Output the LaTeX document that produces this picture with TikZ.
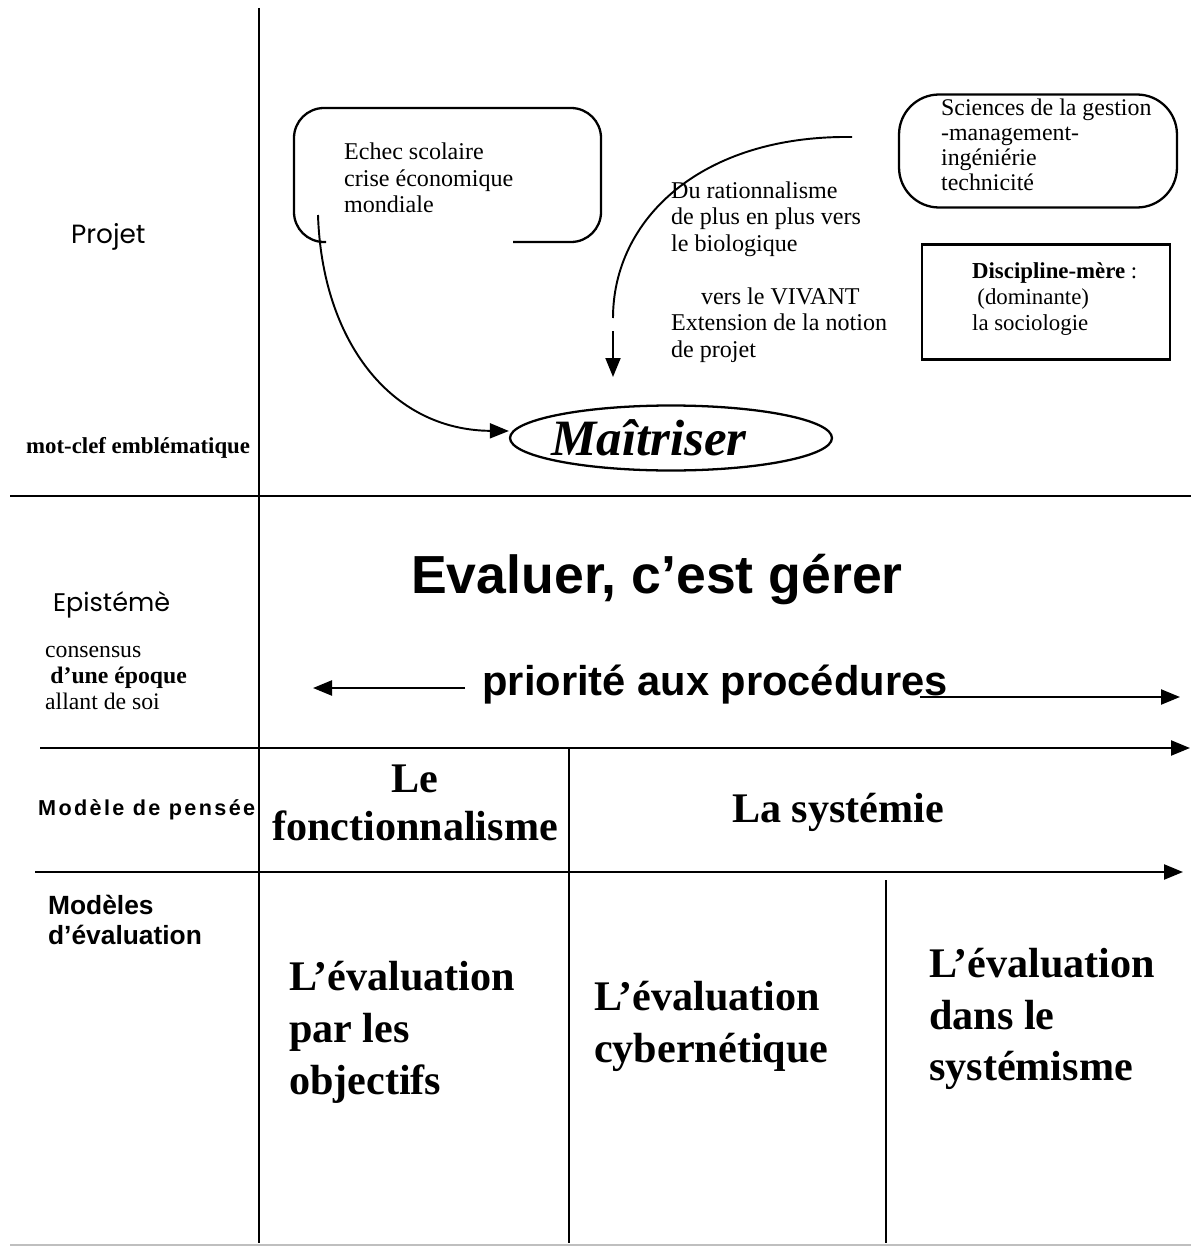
\documentclass[tikz,border=0pt]{standalone}
\usepackage{fontspec}
\setmainfont{Liberation Serif}
\setsansfont{Liberation Sans}
\newfontfamily\thinsans{Poppins}
\usetikzlibrary{positioning,
				arrows.meta,
				shapes.geometric}

\begin{document}
\begin{tikzpicture}[x=0.02cm,y=-0.02cm,line width=1.3pt,
  tip/.style={-{Triangle[length=0.38cm,width=0.3cm]}},
  txt/.style={inner sep=0pt,align=left,font=\fontsize{13.7}{15.1}\selectfont},
  big/.style={inner sep=0pt,align=left,font=\fontsize{24}{29.5}\selectfont\bfseries}]
  \useasboundingbox (0,0) rectangle (1191,1247);

  % grid lines
  \coordinate (vtop) at (259,8);
  \coordinate (vbot) at (259,1243);
  \coordinate (hone) at (10,496);
  \coordinate (honeend) at (1191,496);
  \coordinate (htwo) at (40,748);
  \coordinate (htwoend) at (1190,748);
  \coordinate (hthree) at (35,872);
  \coordinate (hthreeend) at (1183,872);
  \coordinate (vtwo) at (569,748);
  \coordinate (vtwobot) at (569,1243);
  \coordinate (vthree) at (886,880);
  \coordinate (vthreebot) at (886,1243);
  \draw (vtop)--(vbot);
  \draw (hone)--(honeend);
  \draw[tip] (htwo)--(htwoend);
  \draw[tip] (hthree)--(hthreeend);
  \draw (vtwo)--(vtwobot);
  \draw (vthree)--(vthreebot);
  \draw[gray!50,line width=0.8pt] (10,1245)--(1191,1245);

  % left column
  \node[anchor=west,inner sep=0pt,font=\thinsans\fontsize{15}{17}\selectfont] (projet) at (70,237) {Projet};
  \node[anchor=west,inner sep=0pt,font=\fontsize{13}{15}\selectfont\bfseries] (motclef) at (25,448) {mot-clef emblématique};
  \node[anchor=west,inner sep=0pt,font=\thinsans\fontsize{14.5}{17}\selectfont] (episteme) at (52,605) {Epistémè};
  \node[anchor=west,txt,font=\fontsize{13.5}{14.7}\selectfont] (consensus) at (44,678) {consensus\\ \hspace{3pt}\textbf{d’une époque}\\allant de soi};
  \node[anchor=west,inner sep=0pt,font=\sffamily\bfseries\fontsize{12.3}{14}\selectfont\addfontfeature{LetterSpace=11}] (pensee) at (37,810) {Modèle de pensée};
  \node[anchor=west,inner sep=0pt,align=left,font=\sffamily\bfseries\fontsize{15}{17}\selectfont] (modeles) at (47,920) {Modèles\\d’évaluation};

  % Projet row
  \draw[rounded corners=0.6cm] (513,242) -| (601,108) -| (294,242) -- (326,242);
  \node[anchor=west,txt] (echec) at (343,178) {Echec scolaire\\crise économique\\mondiale};
  \node[draw,rounded corners=0.8cm,minimum width=5.56cm,minimum height=2.26cm] (gestion) at (1038,151) {};
  \node[anchor=west,txt,font=\fontsize{13.6}{14.3}\selectfont] (gestiontxt) at (940,145) {Sciences de la gestion\\-management-\\ingéniérie\\technicité};
  \node[draw,minimum width=4.96cm,minimum height=2.3cm] (discipline) at (1046,302) {};
  \node[anchor=west,txt,font=\fontsize{13}{14.7}\selectfont] (disciplinetxt) at (971,299) {\textbf{Discipline-mère} :\\ \hspace{3pt}(dominante)\\la sociologie};
  \node[anchor=west,txt] (vivant) at (670,272) {Du rationnalisme\\de plus en plus vers\\le biologique\\[15.1pt]\hspace{17pt}vers le VIVANT\\Extension de la notion\\de projet};
  \node[draw,ellipse,minimum width=6.44cm,minimum height=1.3cm,inner sep=0pt,font=\fontsize{29}{32}\selectfont\bfseries\itshape] (maitriser) at (671,438) {\kern-0.88cm Maîtriser};

  \coordinate (echecfoot) at (318,215);
  \coordinate (vivantstart) at (852,137);
  \coordinate (vivantend) at (613,318);
  \coordinate (downstart) at (613,331);
  \coordinate (downtip) at (613,377);
  \draw[tip,line width=1.1pt] (echecfoot) .. controls (322,340) and (390,430) .. ([yshift=0.14cm]maitriser.west);
  \draw[line width=1.1pt] (vivantstart) .. controls (700,135) and (613,220) .. (vivantend);
  \draw[tip,line width=1.1pt] (downstart)--(downtip);

  % Episteme row
  \node[inner sep=0pt,font=\sffamily\bfseries\fontsize{30.5}{34}\selectfont] (evaluer) at (657,580) {Evaluer, c’est gérer};
  \node[inner sep=0pt,font=\sffamily\bfseries\fontsize{23.7}{27}\selectfont] (priorite) at (715,685) {priorité aux procédures};
  \coordinate (prioleft) at (465,688);
  \coordinate (prioleftend) at (313,688);
  \coordinate (prioright) at (920,697);
  \coordinate (priorightend) at (1180,697);
  \draw[tip] (prioleft)--(prioleftend);
  \draw[tip] (prioright)--(priorightend);

  % models of thought
  \node[big,align=center,font=\fontsize{24}{27}\selectfont\bfseries] (fonction) at (415,803) {Le\\fonctionnalisme};
  \node[big,font=\fontsize{24}{27}\selectfont\bfseries] (systemie) at (838,812) {La systémie};

  % evaluation models
  \node[anchor=west,big] (objectifs) at (288,1032) {L’évaluation\\par les\\objectifs};
  \node[anchor=west,big] (cyber) at (593,1026) {L’évaluation\\cybernétique};
  \node[anchor=west,big] (systemisme) at (928,1019) {L’évaluation\\dans le\\systémisme};
\end{tikzpicture}
\end{document}
